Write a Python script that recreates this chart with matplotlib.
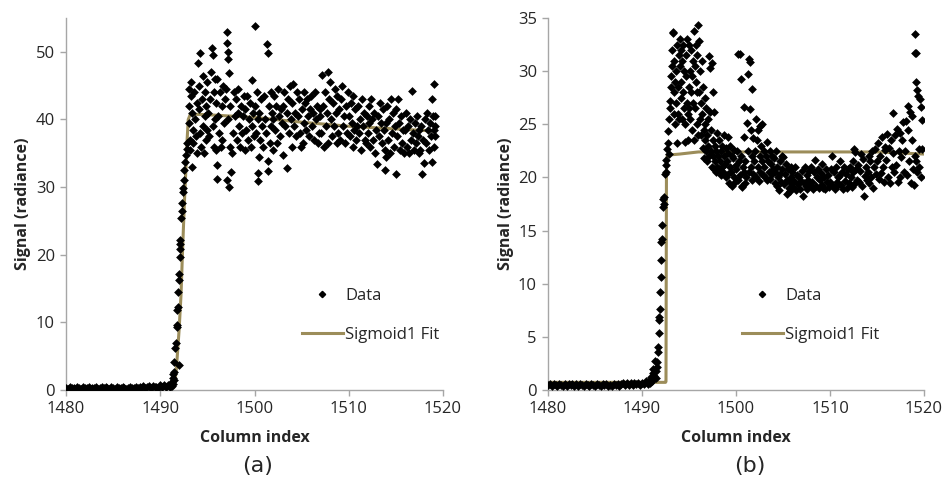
import matplotlib
matplotlib.use("Agg")
import matplotlib.pyplot as plt
from matplotlib.lines import Line2D

# ---------------------------
# Data
# ---------------------------
# panel (a): flat baseline, rising edge, noisy plateau
a_base = [(1480.0,0.3),(1480.2,0.2),(1480.4,0.4),(1480.6,0.25),(1480.8,0.35),(1481.0,0.15),(1481.2,0.4),
          (1481.4,0.3),(1481.6,0.2),(1481.8,0.45),(1482.0,0.3),(1482.2,0.25),(1482.4,0.4),(1482.6,0.2),
          (1482.8,0.35),(1483.0,0.3),(1483.2,0.45),(1483.4,0.2),(1483.6,0.3),(1483.8,0.4),(1484.0,0.25),
          (1484.2,0.5),(1484.4,0.3),(1484.6,0.2),(1484.8,0.4),(1485.0,0.35),(1485.2,0.2),(1485.4,0.45),
          (1485.6,0.3),(1485.8,0.25),(1486.0,0.4),(1486.2,0.3),(1486.4,0.2),(1486.6,0.35),(1486.8,0.45),
          (1487.0,0.3),(1487.2,0.25),(1487.4,0.4),(1487.6,0.3),(1487.8,0.5),(1488.0,0.35),(1488.2,0.6),
          (1488.4,0.3),(1488.6,0.45),(1488.8,0.55),(1489.0,0.3),(1489.2,0.6),(1489.4,0.4),(1489.6,0.5),
          (1489.8,0.3),(1490.0,0.7),(1490.2,0.5),(1490.4,0.8),(1490.6,0.4),(1490.8,0.7),(1491.0,0.5),
          (1491.1,0.9),(1491.2,0.6)]
a_rise = [(1491.25,1.2),(1491.3,1.8),(1491.35,0.9),(1491.4,2.3),(1491.45,2.7),(1491.5,1.5),(1491.48,4.1),
          (1491.55,6.2),(1491.66,7.0),(1492.0,3.7),(1491.75,9.3),(1491.8,11.8),(1491.85,12.3),(1491.82,9.6),
          (1491.9,14.5),(1491.95,16.2),(1492.0,17.2),(1492.05,19.7),(1492.08,20.9),(1492.1,21.6),
          (1492.12,22.2),(1492.25,25.4),(1492.28,26.4),(1492.32,27.6),(1492.4,29.3),(1492.45,29.8),
          (1492.5,31.0),(1492.55,32.5),(1492.65,33.7),(1492.75,34.7),(1492.8,35.7),(1492.85,36.5)]
a_plateau = [
    (1493.0,44.5),(1493.05,42.0),(1493.1,39.5),(1493.15,37.0),(1493.2,35.5),(1493.25,43.5),(1493.3,45.5),
    (1493.35,41.0),(1493.4,33.0),(1493.45,38.5),(1493.5,36.5),(1493.6,44.0),(1493.7,40.0),(1493.8,37.5),
    (1493.9,42.5),(1493.95,35.0),
    (1494.0,48.3),(1494.1,45.0),(1494.15,41.5),(1494.2,49.8),(1494.25,38.0),(1494.3,36.0),(1494.4,43.0),
    (1494.5,39.0),(1494.55,46.5),(1494.6,35.0),(1494.7,40.5),(1494.8,44.0),(1494.85,37.0),(1494.9,42.0),
    (1494.95,38.5),
    (1495.0,45.5),(1495.1,41.0),(1495.2,37.5),(1495.3,43.0),(1495.4,47.0),(1495.5,50.6),(1495.55,49.5),
    (1495.6,39.0),(1495.65,36.0),(1495.7,44.0),(1495.8,46.0),(1495.85,40.0),(1495.9,35.5),(1495.95,42.5),
    (1496.0,46.0),(1496.02,33.3),(1496.05,31.2),(1496.1,40.5),(1496.2,38.0),(1496.3,44.0),(1496.4,36.0),
    (1496.5,42.0),(1496.6,37.0),(1496.7,45.0),(1496.8,39.5),(1496.9,43.0),
    (1497.0,44.5),(1497.1,52.9),(1497.12,51.3),(1497.14,50.0),(1497.16,48.9),(1497.3,46.8),(1497.32,30.0),
    (1497.1,31.0),(1497.5,32.2),(1497.2,40.0),(1497.4,36.0),(1497.45,42.0),(1497.6,35.0),(1497.7,38.0),
    (1497.8,44.0),(1497.9,40.5),
    (1498.0,43.0),(1498.1,37.0),(1498.2,41.0),(1498.3,44.5),(1498.4,39.0),(1498.5,36.0),(1498.6,42.0),
    (1498.7,38.0),(1498.8,40.5),(1498.9,43.5),(1498.95,35.5),
    (1499.0,41.5),(1499.1,38.5),(1499.2,43.5),(1499.3,37.0),(1499.4,40.0),(1499.5,42.5),(1499.6,36.0),
    (1499.7,45.8),(1499.75,39.0),(1499.85,41.0),(1499.95,37.5),
    (1500.0,42.0),(1500.1,53.8),(1500.15,38.0),(1500.25,44.0),(1500.35,40.0),(1500.4,30.9),(1500.42,32.1),
    (1500.45,34.5),(1500.5,41.0),(1500.6,37.0),(1500.7,43.0),(1500.8,39.0),(1500.9,36.0),
    (1501.0,43.5),(1501.1,40.0),(1501.2,38.0),(1501.3,51.1),(1501.4,49.8),(1501.42,33.9),(1501.45,32.4),
    (1501.5,42.0),(1501.6,36.5),(1501.7,44.0),(1501.8,39.0),(1501.9,41.0),(1501.95,35.5),
    (1502.0,40.0),(1502.1,43.5),(1502.2,38.5),(1502.3,42.0),(1502.4,36.5),(1502.5,44.5),(1502.6,40.5),
    (1502.7,37.5),(1502.8,41.5),(1502.9,39.5),
    (1503.0,34.8),(1503.05,42.0),(1503.15,44.0),(1503.25,39.0),(1503.4,32.8),(1503.45,41.0),(1503.55,43.0),
    (1503.65,38.0),(1503.75,45.0),(1503.85,40.0),(1503.95,36.0),
    (1504.0,42.5),(1504.1,45.2),(1504.2,39.0),(1504.3,41.0),(1504.4,37.5),(1504.5,44.0),(1504.6,40.5),
    (1504.7,43.0),(1504.8,38.0),(1504.9,36.0),
    (1505.0,41.5),(1505.1,36.5),(1505.2,44.0),(1505.3,39.5),(1505.4,42.5),(1505.5,38.5),(1505.6,43.0),
    (1505.7,40.5),(1505.8,37.5),(1505.9,41.5),
    (1506.0,43.5),(1506.1,39.0),(1506.2,41.0),(1506.3,37.0),(1506.4,44.0),(1506.5,40.0),(1506.6,42.0),
    (1506.7,36.5),(1506.8,38.0),(1506.9,41.5),
    (1507.0,40.5),(1507.1,38.0),(1507.2,46.6),(1507.3,42.0),(1507.4,36.0),(1507.5,44.0),(1507.6,39.0),
    (1507.7,41.0),(1507.8,47.0),(1507.85,36.5),(1507.9,43.0),
    (1508.0,45.5),(1508.1,40.0),(1508.2,37.5),(1508.3,42.5),(1508.4,39.0),(1508.5,44.5),(1508.6,41.0),
    (1508.7,36.5),(1508.8,43.5),(1508.9,38.0),
    (1509.0,41.5),(1509.1,37.0),(1509.2,43.0),(1509.3,45.0),(1509.4,39.0),(1509.5,40.5),(1509.6,36.5),
    (1509.7,42.0),(1509.8,38.0),(1509.9,44.0),
    (1510.0,40.5),(1510.1,37.5),(1510.2,42.5),(1510.3,39.5),(1510.4,36.0),(1510.5,43.5),(1510.6,38.5),
    (1510.7,41.5),(1510.8,37.0),(1510.9,39.0),
    (1511.0,42.0),(1511.1,38.0),(1511.2,40.0),(1511.3,35.5),(1511.4,43.0),(1511.5,39.0),(1511.6,41.0),
    (1511.7,37.0),(1511.8,36.5),(1511.9,40.5),
    (1512.0,38.0),(1512.1,42.0),(1512.2,39.5),(1512.3,36.0),(1512.4,43.0),(1512.5,40.0),(1512.6,37.0),
    (1512.7,41.0),(1512.8,35.0),(1512.9,38.5),
    (1513.0,33.4),(1513.1,40.5),(1513.2,37.5),(1513.3,42.5),(1513.4,39.5),(1513.5,36.5),(1513.6,41.5),
    (1513.7,38.5),(1513.8,32.6),(1513.85,35.5),(1513.9,34.5),
    (1514.0,39.5),(1514.1,42.0),(1514.2,37.0),(1514.3,40.0),(1514.4,35.0),(1514.5,43.0),(1514.6,38.0),
    (1514.7,41.0),(1514.8,36.0),(1514.9,39.0),
    (1515.0,32.0),(1515.05,41.5),(1515.15,37.5),(1515.25,43.0),(1515.35,39.5),(1515.45,35.5),(1515.55,40.5),
    (1515.65,36.5),(1515.75,38.5),(1515.85,35.0),
    (1516.0,38.5),(1516.1,41.0),(1516.2,36.0),(1516.3,39.0),(1516.4,35.0),(1516.5,40.0),(1516.6,37.0),
    (1516.7,44.2),(1516.8,38.0),(1516.9,35.5),
    (1517.0,39.5),(1517.1,36.5),(1517.2,40.5),(1517.3,37.5),(1517.4,35.0),(1517.5,38.5),(1517.6,35.5),
    (1517.7,39.0),(1517.8,32.0),(1517.9,37.0),
    (1518.0,33.5),(1518.1,40.0),(1518.2,36.5),(1518.3,41.0),(1518.4,38.5),(1518.5,35.5),(1518.6,39.5),
    (1518.7,37.5),(1518.8,43.0),(1518.85,33.7),(1518.9,40.5),
    (1519.0,45.3),(1519.03,38.5),(1519.06,36.0),(1519.1,37.5),(1519.12,39.0),(1519.15,40.5),
]
a_fit_x = [1480.0, 1491.45, 1491.7, 1492.0, 1492.2, 1492.35, 1492.5, 1492.6, 1492.75, 1492.85, 1492.97,
           1493.2, 1495.0, 1500.0, 1505.0, 1510.0, 1515.0, 1519.0]
a_fit_y = [0.3, 0.4, 2.9, 8.9, 14.0, 20.0, 25.5, 29.0, 33.5, 37.0, 40.0,
           40.8, 40.7, 40.3, 39.6, 39.0, 38.6, 38.3]

# panel (b)
b_base = [(1480.0,0.45),(1480.2,0.55),(1480.4,0.35),(1480.6,0.6),(1480.8,0.45),(1481.0,0.35),(1481.2,0.6),
          (1481.4,0.45),(1481.6,0.4),(1481.8,0.6),(1482.0,0.35),(1482.2,0.55),(1482.4,0.45),(1482.6,0.6),
          (1482.8,0.4),(1483.0,0.55),(1483.2,0.35),(1483.4,0.6),(1483.6,0.45),(1483.8,0.4),(1484.0,0.6),
          (1484.2,0.45),(1484.4,0.35),(1484.6,0.6),(1484.8,0.5),(1485.0,0.4),(1485.2,0.6),(1485.4,0.45),
          (1485.6,0.35),(1485.8,0.55),(1486.0,0.45),(1486.2,0.6),(1486.4,0.4),(1486.6,0.5),(1486.8,0.35),
          (1487.0,0.55),(1487.2,0.45),(1487.4,0.6),(1487.6,0.4),(1487.8,0.55),(1488.0,0.65),(1488.2,0.45),
          (1488.4,0.7),(1488.6,0.5),(1488.8,0.65),(1489.0,0.45),(1489.2,0.7),(1489.4,0.55),(1489.6,0.65),
          (1489.8,0.45),(1490.0,0.7),(1490.2,0.55),(1490.4,0.8),(1490.6,0.6),(1490.8,0.7)]
b_rise = [(1490.9,0.9),(1491.0,1.2),(1491.1,0.8),(1491.15,1.6),(1491.2,2.0),(1491.3,1.3),(1491.35,2.7),
          (1491.45,1.1),(1491.5,1.8),(1491.55,2.2),(1491.6,2.6),(1491.67,3.6),(1491.72,4.0),(1491.78,5.4),
          (1491.82,6.6),(1491.85,6.9),(1491.88,7.6),(1491.92,9.2),(1491.97,10.6),(1492.02,12.2),
          (1492.07,13.9),(1492.09,14.2),(1492.15,15.5),(1492.2,17.2),(1492.25,18.0),(1492.3,18.2),
          (1492.33,17.5),(1492.45,20.3),(1492.5,21.2),(1492.55,21.6),(1492.6,20.5)]
b_plateau = [
    (1492.7,22.7),(1492.75,23.2),(1492.8,24.4),(1492.85,22.2),(1492.9,25.5),(1492.95,26.5),(1493.0,27.2),
    (1493.05,28.5),(1493.1,29.5),(1493.15,30.5),(1493.2,32.0),(1493.25,33.6),(1493.3,33.7),(1493.35,26.0),
    (1493.4,28.0),(1493.45,31.0),(1493.5,25.0),(1493.55,29.0),(1493.6,30.0),(1493.65,27.0),(1493.7,23.2),
    (1493.75,32.5),(1493.8,26.0),(1493.85,28.5),(1493.9,31.5),(1493.95,25.5),
    (1494.0,30.5),(1494.05,33.0),(1494.1,27.5),(1494.15,29.0),(1494.2,32.0),(1494.25,25.5),(1494.3,31.0),
    (1494.35,28.0),(1494.4,32.5),(1494.45,26.5),(1494.5,30.0),(1494.55,25.0),(1494.6,23.3),(1494.65,29.5),
    (1494.7,31.5),(1494.75,27.0),(1494.8,33.0),(1494.85,26.0),(1494.9,23.5),(1494.95,28.5),
    (1495.0,32.5),(1495.05,26.5),(1495.1,30.0),(1495.15,25.5),(1495.2,28.0),(1495.25,32.0),(1495.3,29.5),
    (1495.35,24.5),(1495.4,31.0),(1495.45,27.0),(1495.5,33.8),(1495.55,23.5),(1495.6,30.5),(1495.65,26.5),
    (1495.7,29.0),(1495.75,32.5),(1495.8,28.0),(1495.85,25.0),(1495.9,31.5),(1495.95,24.0),
    (1496.0,34.3),(1496.05,32.8),(1496.1,28.0),(1496.15,30.0),(1496.2,25.5),(1496.25,27.0),(1496.3,24.0),
    (1496.35,31.0),(1496.4,26.0),(1496.45,22.8),(1496.5,28.5),(1496.55,24.5),(1496.6,21.8),(1496.65,25.0),
    (1496.7,27.5),(1496.75,23.5),(1496.8,22.5),(1496.85,26.5),(1496.9,24.0),(1496.95,21.5),
    (1497.0,23.0),(1497.05,25.5),(1497.1,22.0),(1497.15,31.4),(1497.2,30.3),(1497.25,26.2),(1497.3,24.5),
    (1497.35,22.5),(1497.4,21.0),(1497.45,30.8),(1497.5,28.0),(1497.55,23.5),(1497.6,22.0),(1497.65,20.8),
    (1497.7,26.2),(1497.75,21.5),(1497.8,23.0),(1497.85,20.5),(1497.9,22.5),(1497.95,21.0),
    (1498.0,24.2),(1498.1,22.0),(1498.15,20.8),(1498.2,23.5),(1498.3,21.5),(1498.35,20.2),(1498.4,22.5),
    (1498.5,21.0),(1498.55,23.0),(1498.6,20.5),(1498.7,22.0),(1498.75,24.0),(1498.8,21.3),(1498.9,20.0),
    (1498.95,22.8),
    (1499.0,21.5),(1499.1,23.8),(1499.15,20.3),(1499.2,22.3),(1499.3,19.5),(1499.35,21.0),(1499.4,23.0),
    (1499.5,20.5),(1499.55,22.0),(1499.6,19.2),(1499.7,21.8),(1499.75,20.0),(1499.8,22.6),(1499.9,19.6),
    (1499.95,21.2),
    (1500.0,20.8),(1500.1,22.5),(1500.2,31.6),(1500.25,19.8),(1500.35,21.5),(1500.4,31.6),(1500.45,20.2),
    (1500.5,29.3),(1500.55,22.0),(1500.6,19.2),(1500.65,19.1),(1500.7,21.0),(1500.8,26.6),(1500.85,20.5),
    (1500.9,23.8),(1500.95,19.5),
    (1501.0,21.5),(1501.1,20.0),(1501.2,25.1),(1501.25,22.5),(1501.3,29.7),(1501.35,20.5),(1501.4,31.1),
    (1501.45,30.9),(1501.5,26.4),(1501.55,21.0),(1501.6,24.5),(1501.65,19.8),(1501.7,28.3),(1501.75,22.0),
    (1501.8,23.7),(1501.85,20.3),(1501.9,21.5),
    (1502.0,22.5),(1502.1,25.5),(1502.15,20.0),(1502.2,23.5),(1502.3,21.0),(1502.35,24.5),(1502.4,19.7),
    (1502.5,24.8),(1502.55,22.0),(1502.6,20.5),(1502.7,23.0),(1502.75,21.5),(1502.8,25.0),(1502.9,20.2),
    (1502.95,22.5),
    (1503.0,21.0),(1503.1,20.0),(1503.2,22.0),(1503.3,23.3),(1503.35,19.8),(1503.4,21.5),(1503.5,20.5),
    (1503.6,22.5),(1503.65,19.9),(1503.7,21.3),(1503.8,20.3),(1503.85,22.0),(1503.9,20.8),
    (1504.0,21.8),(1504.1,19.5),(1504.2,20.5),(1504.3,22.5),(1504.35,19.2),(1504.4,21.0),(1504.5,20.0),
    (1504.6,18.8),(1504.65,21.5),(1504.7,20.3),(1504.8,19.6),(1504.85,22.0),(1504.9,20.8),
    (1505.0,21.9),(1505.1,19.4),(1505.2,20.3),(1505.3,21.3),(1505.4,18.4),(1505.45,19.8),(1505.5,20.8),
    (1505.6,19.0),(1505.7,18.7),(1505.8,20.0),(1505.85,21.0),(1505.9,19.5),
    (1506.0,20.5),(1506.1,19.1),(1506.2,19.7),(1506.3,21.0),(1506.4,18.8),(1506.5,20.2),(1506.6,19.4),
    (1506.7,20.0),(1506.8,18.9),(1506.9,19.7),
    (1507.0,20.6),(1507.1,18.3),(1507.2,19.5),(1507.3,21.0),(1507.4,19.2),(1507.5,20.2),(1507.6,18.9),
    (1507.7,19.8),(1507.8,20.6),(1507.9,19.3),
    (1508.0,21.0),(1508.1,19.6),(1508.2,18.9),(1508.3,20.5),(1508.4,21.6),(1508.5,19.2),(1508.6,20.0),
    (1508.7,20.8),(1508.8,19.0),(1508.9,19.8),
    (1509.0,20.4),(1509.1,19.3),(1509.2,21.3),(1509.3,19.0),(1509.4,20.0),(1509.5,18.9),(1509.6,20.8),
    (1509.7,19.6),(1509.8,20.2),(1509.9,19.1),
    (1510.0,19.6),(1510.1,20.8),(1510.2,22.0),(1510.3,19.2),(1510.4,20.5),(1510.5,18.9),(1510.6,21.0),
    (1510.7,19.6),(1510.8,20.0),(1510.9,19.3),
    (1511.0,20.1),(1511.1,21.5),(1511.2,19.3),(1511.3,20.5),(1511.4,18.9),(1511.5,21.0),(1511.6,19.7),
    (1511.7,20.3),(1511.8,19.0),(1511.9,20.8),
    (1512.0,19.5),(1512.1,21.0),(1512.2,20.0),(1512.3,19.1),(1512.4,21.5),(1512.5,20.5),(1512.6,22.7),
    (1512.65,22.4),(1512.7,19.5),(1512.8,20.8),(1512.9,19.8),
    (1513.0,21.2),(1513.1,19.6),(1513.2,20.6),(1513.3,22.2),(1513.4,19.2),(1513.5,21.7),(1513.6,18.3),
    (1513.7,20.1),(1513.8,21.0),(1513.9,19.8),
    (1514.0,20.5),(1514.1,22.0),(1514.2,19.5),(1514.3,21.5),(1514.4,20.0),(1514.5,22.5),(1514.6,19.0),
    (1514.7,21.0),(1514.8,22.7),(1514.9,20.3),
    (1515.0,21.5),(1515.1,23.2),(1515.2,19.9),(1515.3,22.0),(1515.4,20.4),(1515.5,23.8),(1515.6,21.0),
    (1515.7,19.6),(1515.8,22.6),(1515.9,22.9),
    (1516.0,21.6),(1516.1,24.1),(1516.2,20.0),(1516.3,22.8),(1516.4,19.5),(1516.5,23.5),(1516.6,21.0),
    (1516.7,26.1),(1516.75,22.3),(1516.8,20.5),(1516.9,24.0),
    (1517.0,21.2),(1517.1,24.6),(1517.2,19.6),(1517.3,22.5),(1517.4,24.2),(1517.5,20.0),(1517.6,21.9),
    (1517.7,23.5),(1517.8,25.2),(1517.9,20.5),
    (1518.0,22.5),(1518.1,25.3),(1518.2,20.2),(1518.3,26.7),(1518.35,24.5),(1518.4,21.5),(1518.5,26.2),
    (1518.6,19.5),(1518.7,23.5),(1518.75,25.8),(1518.8,20.8),(1518.9,19.3),
    (1519.0,22.0),(1519.04,33.5),(1519.08,31.7),(1519.1,29.0),(1519.15,21.5),(1519.2,31.7),(1519.25,20.5),
    (1519.3,28.2),(1519.4,27.7),(1519.45,22.7),(1519.5,21.0),(1519.6,27.4),(1519.65,26.6),(1519.7,20.0),
    (1519.75,25.4),(1519.8,22.7),
]
b_fit_x = [1480.0, 1492.5, 1492.55, 1492.6, 1492.68, 1494.0, 1496.0, 1500.0, 1510.0, 1515.0, 1520.0]
b_fit_y = [0.72, 0.72, 0.8, 20.5, 22.1, 22.2, 22.4, 22.4, 22.4, 22.4, 22.2]

# ---------------------------
# Style
# ---------------------------
FIT_COLOR = "#9C8D5A"
AXIS_COLOR = "#A6A6A6"
TEXT_COLOR = "#262626"
plt.rcParams["font.family"] = ["Open Sans", "DejaVu Sans"]


def draw_panel(ax, pts, fit_x, fit_y, ymax, ystep, leg_anchor):
    xs = [p[0] for p in pts]
    ys = [p[1] for p in pts]
    ax.plot(fit_x, fit_y, color=FIT_COLOR, lw=2.2, zorder=2)
    ax.scatter(xs, ys, s=20, marker="D", color="black", linewidths=0, zorder=3)

    ax.set_xlim(1480, 1520)
    ax.set_ylim(0, ymax)
    ax.set_xticks(range(1480, 1521, 10))
    ax.set_yticks(range(0, int(ymax) + 1, ystep))
    for side in ("top", "right"):
        ax.spines[side].set_visible(False)
    for side in ("left", "bottom"):
        ax.spines[side].set_color(AXIS_COLOR)
        ax.spines[side].set_linewidth(1.0)
    ax.tick_params(direction="out", length=4, width=1, color=AXIS_COLOR,
                   labelsize=12, labelcolor=TEXT_COLOR, pad=4)
    ax.set_xlabel("Column index", fontsize=11.5, fontweight="bold", color=TEXT_COLOR, labelpad=9)
    ax.set_ylabel("Signal (radiance)", fontsize=11.5, fontweight="bold", color=TEXT_COLOR, labelpad=3)

    handles = [
        Line2D([0], [0], marker="D", markersize=3.2, color="black", linestyle="none"),
        Line2D([0], [0], color=FIT_COLOR, lw=2.2),
    ]
    ax.legend(handles, ["Data", "Sigmoid1 Fit"], loc="upper left", bbox_to_anchor=leg_anchor,
              frameon=False, fontsize=12, handlelength=2.5, handletextpad=0.1,
              labelspacing=1.4, borderpad=0, borderaxespad=0, labelcolor=TEXT_COLOR)


fig = plt.figure(figsize=(9.47, 4.78), dpi=100)
ax_a = fig.add_axes([0.0697, 0.1841, 0.3981, 0.7782])
ax_b = fig.add_axes([0.5787, 0.1841, 0.3970, 0.7782])

draw_panel(ax_a, a_base + a_rise + a_plateau, a_fit_x, a_fit_y, 55, 10, (0.625, 0.275))
draw_panel(ax_b, b_base + b_rise + b_plateau, b_fit_x, b_fit_y, 35, 5, (0.515, 0.275))

fig.text(0.272, 0.013, "(a)", fontsize=16, family="DejaVu Sans", color=TEXT_COLOR, ha="center")
fig.text(0.792, 0.013, "(b)", fontsize=16, family="DejaVu Sans", color=TEXT_COLOR, ha="center")

fig.savefig("out.png", dpi=100)
